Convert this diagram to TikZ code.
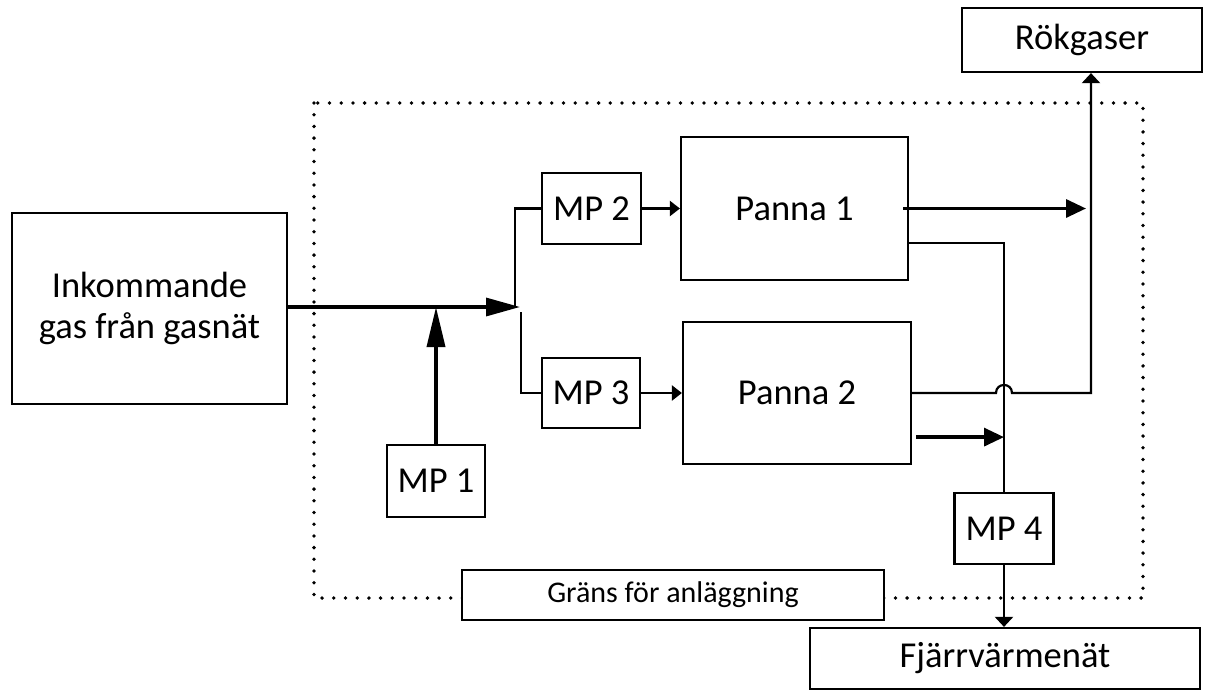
\documentclass[tikz,border=0pt]{standalone}
\usepackage{fontspec}
\setmainfont{Carlito}
\usetikzlibrary{arrows.meta,calc}
\begin{document}
\begin{tikzpicture}[x=1pt,y=-1pt,
  box/.style={draw,line width=2.2pt,inner sep=0pt,align=center,fill=white,
    font=\fontsize{36.5}{41}\selectfont},
  conn/.style={line width=2.2pt},
  thk/.style={line width=3.3pt},
  bigtip/.style={-{Triangle[length=34pt,width=18pt]}},
  uptip/.style={-{Triangle[length=40pt,width=18pt]}},
  midtip/.style={-{Triangle[length=20pt,width=18pt]}},
  smalltip/.style={-{Triangle[length=10pt,width=15pt]}},
  endtip/.style={-{Triangle[length=10pt,width=18pt]}},
  border/.style={line width=3.8pt,line cap=round,dash pattern=on 0pt off 11.7pt}
]
\useasboundingbox (0,0) rectangle (1205,691);

% plant boundary
\draw[border] (314,103) rectangle (1143,598);

% boxes
\node[box,minimum width=275pt,minimum height=191pt] (inc) at (149.5,308.5) {Inkommande\\gas från gasnät};
\node[box,minimum width=98pt,minimum height=72pt] (mp1) at (436,481) {MP 1};
\node[box,minimum width=99pt,minimum height=71pt] (mp2) at (591.5,208.5) {MP 2};
\node[box,minimum width=98pt,minimum height=70pt] (mp3) at (591,393) {MP 3};
\node[box,minimum width=227pt,minimum height=143pt] (p1) at (794.5,208.5) {Panna 1};
\node[box,minimum width=228pt,minimum height=142pt] (p2) at (797,393) {Panna 2};
\node[box,minimum width=99pt,minimum height=71pt] (mp4) at (1004,528.5) {MP 4};
\node[box,minimum width=240pt,minimum height=64pt] (rok) at (1082,40) {Rökgaser};
\node[box,minimum width=390pt,minimum height=61pt] (fj) at (1005,658.5) {Fjärrvärmenät};
\node[box,minimum width=422pt,minimum height=50pt,font=\fontsize{30}{34}\selectfont] (grans) at (673,595) {Gräns för anläggning};

% coordinates
\coordinate (j) at (520,307);
\coordinate (ju) at (515,307);
\coordinate (jd) at (521,312);
\coordinate (rg) at (1086,208.5);
\coordinate (h1) at (996,393);
\coordinate (h2) at (1012,393);
\coordinate (rc) at (1091,393);

% incoming gas
\draw[thk,bigtip] (inc.east |- j) -- (j);
\draw[line width=3.6pt,uptip] (mp1.north) -- (mp1.north |- j);

% branches
\draw[conn] (ju) |- (mp2.west);
\draw[conn] (jd) |- (mp3.west);
\draw[conn,smalltip] (mp2.east) -- (p1.west);
\draw[conn,smalltip] (mp3.east) -- (p2.west);

% Panna 1 outputs
\draw[thk,midtip] ($(p1.east)+(-6,0)$) -- (rg);
\draw[conn] ($(p1.south east)+(0,-38)$) -| (mp4.north);

% Panna 2 outputs
\draw[conn,endtip] (p2.east) -- (h1) .. controls ($(h1)+(0,-10.7)$) and ($(h2)+(0,-10.7)$) .. (h2) -- (rc) -- (rc |- rok.south);
\draw[thk,midtip] ($(p2.south east)+(4,-28)$) -- (mp4.north |- {$(p2.south east)+(4,-28)$});

% MP4 to district heating
\draw[conn,endtip] (mp4.south) -- (fj.north -| mp4.south);
\end{tikzpicture}
\end{document}
